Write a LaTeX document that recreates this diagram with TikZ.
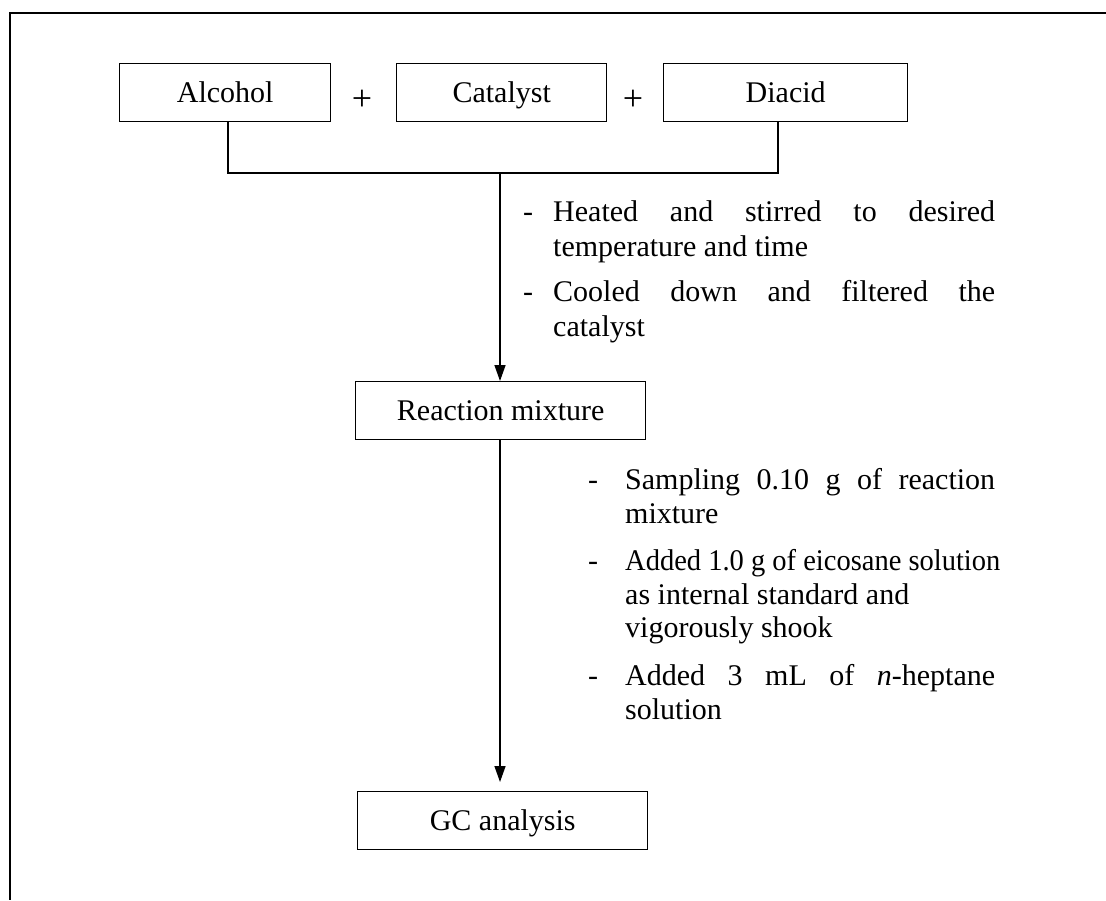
\documentclass[tikz,border=0pt]{standalone}
\usepackage{fontspec}
\setmainfont{Liberation Serif}
\usetikzlibrary{arrows.meta}
\tikzset{
  x=1pt,y=-1pt,
  box/.style={draw,line width=1.4pt,minimum height=58pt,inner sep=0pt,anchor=north west,
    text height=22pt,text depth=2pt,font=\fontsize{30}{36}\selectfont},
  lbl/.style={inner sep=0pt,anchor=base west,font=\fontsize{30}{36}\selectfont},
  plus/.style={inner sep=0pt,anchor=base,font=\fontsize{36}{40}\selectfont},
  conn/.style={line width=1.4pt},
  arr/.style={line width=1.4pt,-{Triangle[length=16pt,width=11pt]}},
}
\newcommand{\jl}[2]{\makebox[#1][s]{#2}}
\begin{document}
\begin{tikzpicture}
\useasboundingbox (0,0) rectangle (1106,900);
% frame
\draw[line width=2pt] (1106,13) -- (10,13) -- (10,900);
% top boxes
\node[box,minimum width=211pt] (alc) at (119,63) {Alcohol};
\node[box,minimum width=210pt] (cat) at (396,63) {Catalyst};
\node[box,minimum width=244pt] (dia) at (663,63) {Diacid};
\node[plus] (p1) at (362,110) {+};
\node[plus] (p2) at (633,110) {+};
% joining lines
\coordinate (j1) at (228,173);
\coordinate (j2) at (778,173);
\coordinate (j0) at (500,173);
\draw[conn] (alc.south -| j1) -- (j1) -- (j2) -- (dia.south -| j2);
% reaction mixture
\node[box,minimum width=290pt] (rm) at (355,381) {Reaction mixture};
\draw[arr] (j0) -- (rm.north -| j0);
% first notes
\node[lbl] (d1) at (523,221) {-};
\node[lbl] (t1a) at (553,221) {\jl{442pt}{Heated and stirred to desired}};
\node[lbl] (t1b) at (553,256) {temperature and time};
\node[lbl] (d2) at (523,301) {-};
\node[lbl] (t2a) at (553,301) {\jl{442pt}{Cooled down and filtered the}};
\node[lbl] (t2b) at (553,336) {catalyst};
% GC box
\node[box,minimum width=290pt] (gc) at (357,791) {GC analysis};
\coordinate (a2) at (500,782);
\draw[arr] (rm.south -| a2) -- (a2);
% second notes
\node[lbl] (d3) at (588,489) {-};
\node[lbl] (t3a) at (625,489) {\jl{370pt}{Sampling 0.10 g of reaction}};
\node[lbl] (t3b) at (625,523) {mixture};
\node[lbl] (d4) at (588,570) {-};
\node[lbl] (t4a) at (625,570) {\scalebox{0.95}[1]{Added 1.0 g of eicosane solution}};
\node[lbl] (t4b) at (625,604) {as internal standard and};
\node[lbl] (t4c) at (625,637) {vigorously shook};
\node[lbl] (d5) at (588,685) {-};
\node[lbl] (t5a) at (625,685) {\jl{370pt}{Added 3 mL of \textit{n}-heptane}};
\node[lbl] (t5b) at (625,719) {solution};
\end{tikzpicture}
\end{document}
